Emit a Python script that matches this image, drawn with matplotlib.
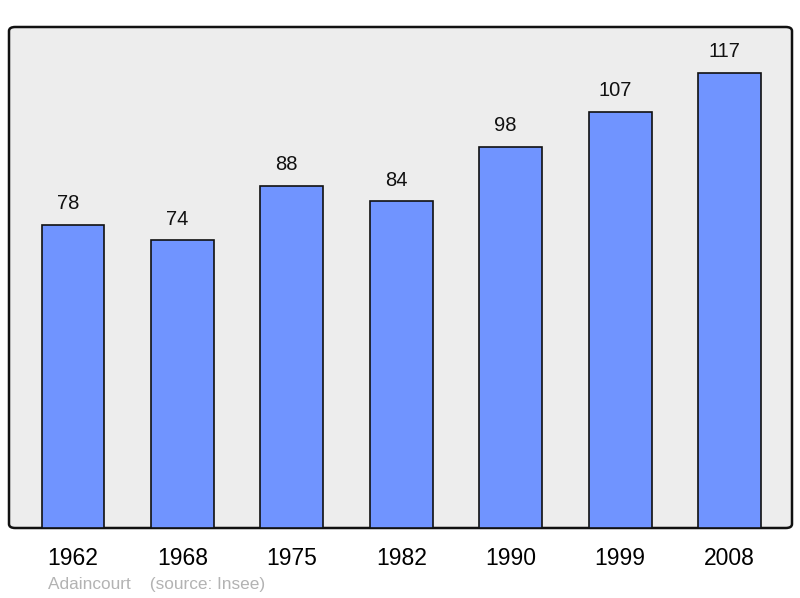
import matplotlib
matplotlib.use("Agg")
import matplotlib.pyplot as plt
from matplotlib.patches import FancyBboxPatch

years = ["1962", "1968", "1975", "1982", "1990", "1999", "2008"]
population = [78, 74, 88, 84, 98, 107, 117]

plt.rcParams['font.family'] = ['Liberation Sans', 'DejaVu Sans']

fig = plt.figure(figsize=(8, 5.98), dpi=100)
ax = fig.add_axes([9/800, 70/598, 783/800, 501/598])
ax.set_facecolor('none')

# rounded frame
frame = FancyBboxPatch((0, 0), 1, 1,
                       boxstyle="round,pad=0,rounding_size=0.008",
                       transform=ax.transAxes, facecolor='#ededed',
                       edgecolor='#111111', linewidth=1.8, zorder=0,
                       clip_on=False)
ax.add_patch(frame)

x = list(range(len(years)))
bars = ax.bar(x, population, width=0.575, color='#7094ff',
              edgecolor='#111111', linewidth=1.2, zorder=2)
for xi, v in zip(x, population):
    ax.annotate(str(v), (xi, v), xytext=(-3.6, 15.2), textcoords='offset points',
                ha='center', va='center', fontsize=14.5, color='#111111')

ax.set_xlim(-0.585, 6.571)
ax.set_ylim(0, 128.8)
for s in ax.spines.values():
    s.set_visible(False)
ax.set_yticks([])
ax.set_xticks(x)
ax.set_xticklabels(years, fontsize=16.5)
ax.tick_params(axis='x', length=0, pad=14)

fig.text(48/800, 1 - 584/598, "Adaincourt    (source: Insee)", fontsize=12.4,
         color='#b3b3b3', ha='left', va='center')

fig.savefig("out.png", dpi=100)
